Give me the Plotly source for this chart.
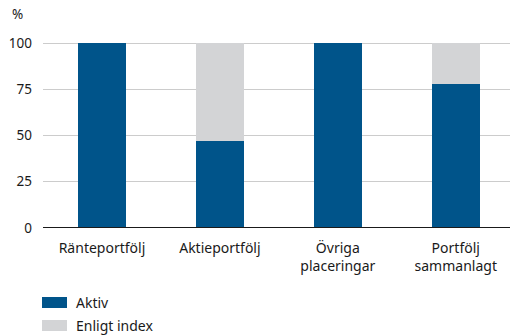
import plotly.graph_objects as go

categories = ["Ränteportfölj", "Aktieportfölj", "Övriga<br>placeringar", "Portfölj<br>sammanlagt"]
aktiv = [100, 47, 100, 78]
enligt_index = [0, 53, 0, 22]
tick_vals = [0, 25, 50, 75, 100]
series_names = ["Aktiv", "Enligt index"]
colors = ["#00548a", "#d3d4d6"]

W, H = 510, 335
ML, MR, MT, MB = 43, 0, 41, 107
font = dict(family="'Noto Sans', sans-serif", size=14, color="#1a1a1a")
tick_font = dict(family="'Noto Sans', sans-serif", size=13.5, color="#1a1a1a")

fig = go.Figure()
for name, vals, col in zip(series_names, [aktiv, enligt_index], colors):
    fig.add_trace(go.Bar(x=categories, y=vals, name=name, marker=dict(color=col, line=dict(width=0)),
                         width=0.41, showlegend=False))

fig.update_layout(
    width=W, height=H, margin=dict(l=ML, r=MR, t=MT, b=MB),
    barmode="stack", plot_bgcolor="white", paper_bgcolor="white", font=font,
    xaxis=dict(range=[-0.5, 3.46], showgrid=False, showline=False, ticks="", zeroline=False,
               tickfont=font, ticklabelstandoff=10),
    yaxis=dict(range=[0, 101.1], tickvals=tick_vals, showgrid=True, gridcolor="#cccccc", gridwidth=1,
               zeroline=False, showline=False, ticks="", ticklabelstandoff=10, tickfont=tick_font),
)

# baseline at zero
fig.add_shape(type="line", xref="paper", yref="y", x0=0, x1=1, y0=0, y1=0,
              line=dict(color="#1a1a1a", width=2), layer="above")

plot_h = H - MT - MB
plot_w = W - ML - MR
def px(x):
    return (x - ML) / plot_w
def py(y):
    return (H - MB - y) / plot_h

# axis unit
fig.add_annotation(text="%", xref="paper", yref="paper", x=px(17), y=py(14),
                   showarrow=False, font=tick_font, xanchor="center", yanchor="middle")

# legend drawn below the plot
for i, (name, col) in enumerate(zip(series_names, colors)):
    top = 297 + i * 23
    fig.add_shape(type="rect", xref="paper", yref="paper", x0=px(42), x1=px(67), y0=py(top), y1=py(top + 11),
                  fillcolor=col, line=dict(width=0))
    fig.add_annotation(text=name, xref="paper", yref="paper", x=px(74), y=py(top + 5.5),
                       showarrow=False, font=font, xanchor="left", yanchor="middle")

fig.write_html("out.html")
